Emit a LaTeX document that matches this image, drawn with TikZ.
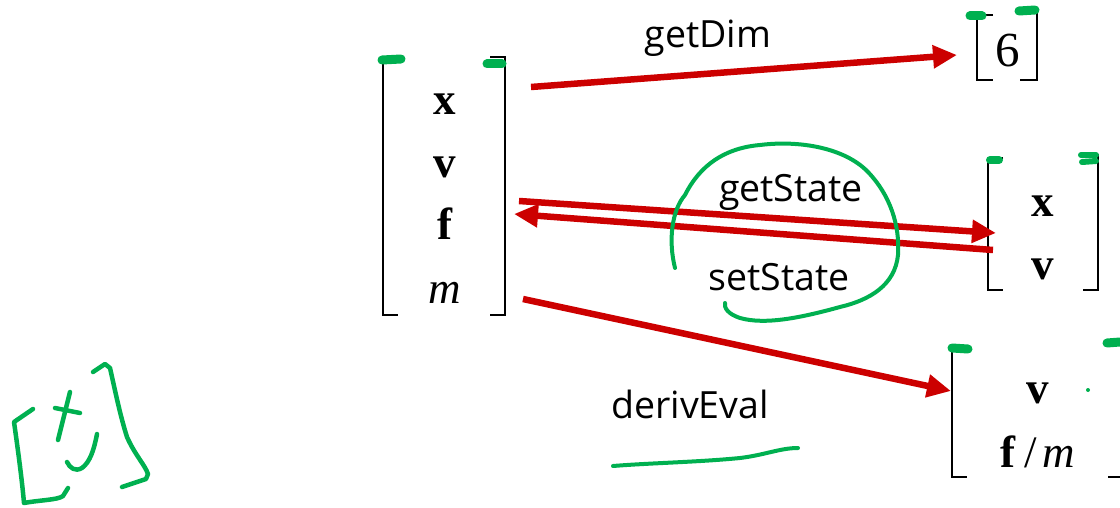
\documentclass[tikz,border=0pt]{standalone}
\usepackage{fontspec}
\setmainfont{Liberation Serif}
\newfontfamily\labelfont{Open Sans}
\usetikzlibrary{arrows.meta}
\definecolor{arrred}{HTML}{CC0000}
\definecolor{ink}{HTML}{00B050}
\tikzset{
 redarrow/.style={draw=arrred, line width=6.5pt, -{Triangle[length=24pt,width=22pt]}},
 brk/.style={line width=2.3pt, black},
 ent/.style={font=\fontsize{45}{50}\selectfont, inner sep=0pt, anchor=base},
 lbl/.style={font=\labelfont\fontsize{37.5}{44}\selectfont, inner sep=0pt, anchor=base},
 pen/.style={draw=ink, line width=4pt, line cap=round, line join=round},
 blob/.style={draw=ink, line width=9pt, line cap=round},
}
\begin{document}
\begin{tikzpicture}[x=1pt,y=-1pt]
\useasboundingbox (0,0) rectangle (1120,508);
% big state matrix
\draw[brk] (398,60) -- (383,60) -- (383,315) -- (398,315);
\draw[brk] (490,57) -- (505,57) -- (505,315) -- (490,315);
\node[ent] (sx) at (445,115) {\textbf{x}};
\node[ent] (sv) at (445,178) {\textbf{v}};
\node[ent] (sf) at (445,240) {\textbf{f}};
\node[ent] (sm) at (445,303) {\textit{m}};
% [6]
\draw[brk] (993,15) -- (977,15) -- (977,80) -- (993,80);
\draw[brk] (1020,12) -- (1037,12) -- (1037,80) -- (1020,80);
\node[ent, font=\fontsize{49}{54}\selectfont] (six) at (1008,67) {6};
% [x v]
\draw[brk] (1003,158) -- (988,158) -- (988,290) -- (1003,290);
\draw[brk] (1083,155) -- (1098,155) -- (1098,290) -- (1083,290);
\node[ent] (gx) at (1043,216) {\textbf{x}};
\node[ent] (gv) at (1043,279) {\textbf{v}};
% [v f/m]
\draw[brk] (967,350) -- (952,350) -- (952,477) -- (967,477);
\draw[brk] (1108,345) -- (1125,345) -- (1125,477) -- (1108,477);
\node[ent] (dv) at (1038,403) {\textbf{v}};
\node[ent] (dfm) at (1038,467) {\textbf{f}\hspace{8pt}/\hspace{6pt}\textit{m}};
% arrow end points
\coordinate (a1s) at (531,87);  \coordinate (a1e) at (957,55);
\coordinate (a2s) at (519,201); \coordinate (a2e) at (996,233);
\coordinate (a3s) at (993,250); \coordinate (a3e) at (514,214);
\coordinate (a4s) at (523,299); \coordinate (a4e) at (951,391);
\draw[redarrow] (a1s) -- (a1e);
\draw[redarrow] (a2s) -- (a2e);
\draw[redarrow] (a3s) -- (a3e);
\draw[redarrow] (a4s) -- (a4e);
% labels
\node[lbl] (lgetdim) at (708,48) {getDim};
\node[lbl] (lget) at (791,202) {getState};
\node[lbl] (lset) at (779,290) {setState};
\node[lbl] (lderiv) at (690,418) {derivEval};
% green handwriting: loop
\draw[pen] (675,268) .. controls (668,240) and (672,210) .. (685,195)
  .. controls (700,165) and (725,148) .. (760,145)
  .. controls (800,140) and (845,148) .. (868,172)
  .. controls (890,195) and (900,225) .. (898,255)
  .. controls (895,285) and (870,300) .. (840,307)
  .. controls (800,318) and (765,325) .. (740,318)
  .. controls (728,314) and (724,308) .. (725,303);
% underline
\draw[pen] (613,466) .. controls (650,463) and (700,462) .. (740,458)
  .. controls (765,455) and (780,448) .. (798,448);
% bottom-left [x]
\begin{scope}[pen, line width=4.5pt]
\draw (33,409) -- (14,422) .. controls (18,450) and (22,480) .. (24,503)
  .. controls (40,500) and (58,500) .. (63,496) -- (68,488);
\draw (55,408) -- (80,413);
\draw (70,392) -- (58,440);
\draw (97,434) .. controls (94,450) and (90,462) .. (82,468)
  .. controls (75,472) and (70,468) .. (67,462);
\draw (93,372) -- (105,364) -- (110,368)
  .. controls (115,390) and (120,415) .. (127,437)
  .. controls (135,455) and (145,465) .. (148,474)
  -- (146,479) -- (122,487);
\end{scope}
% green blobs at bracket tops
\draw[blob] (382,60) -- (401,59);
\draw[blob] (487,64) -- (502,64);
\draw[blob] (970,16) -- (982,16);
\draw[blob] (1019,11) -- (1035,10);
\draw[blob, line width=8pt] (990,160) -- (999,160);
\draw[blob, line width=6pt] (1081,155) -- (1096,155);
\draw[blob, line width=6pt] (1082,162) -- (1096,161);
\draw[blob] (952,348) -- (968,349);
\draw[blob] (1107,343) -- (1120,342);
\fill[ink] (1088,390) circle (2pt);
\end{tikzpicture}
\end{document}
